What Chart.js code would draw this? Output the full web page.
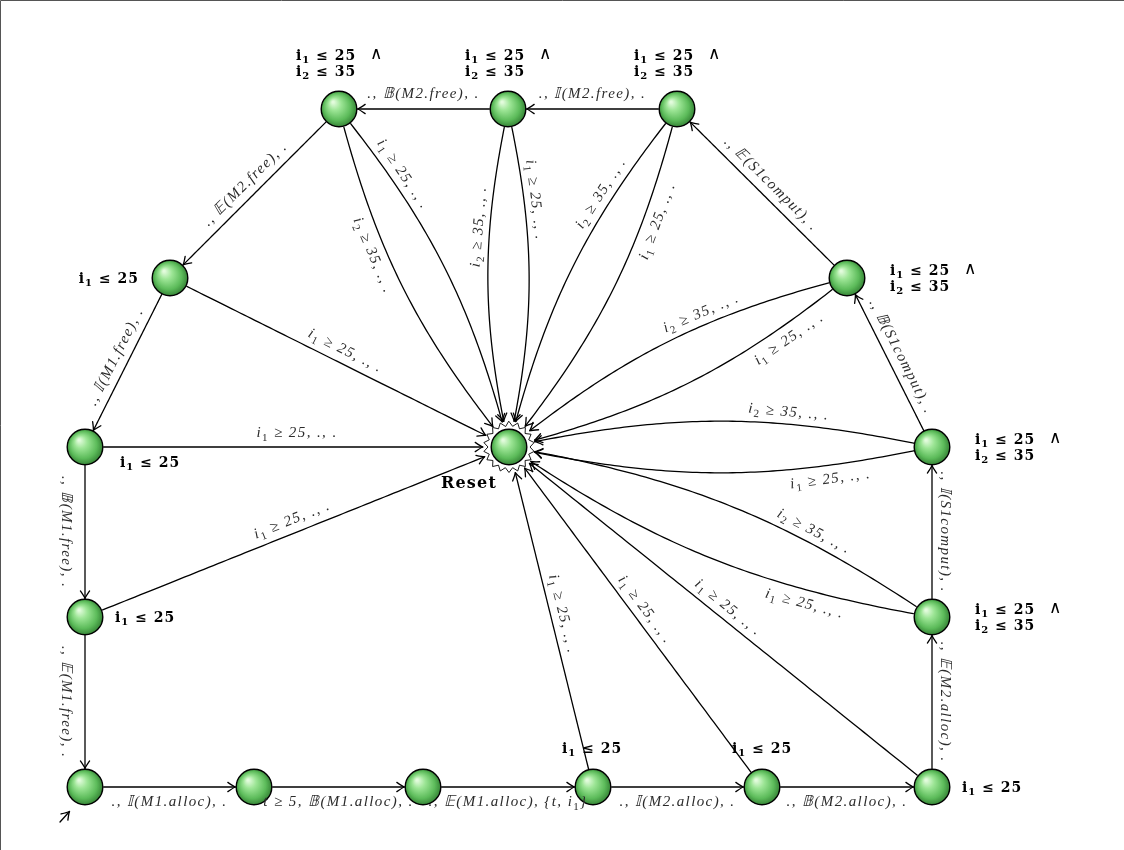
<!DOCTYPE html>
<html>
<head>
<meta charset="utf-8">
<script src="https://cdn.jsdelivr.net/npm/chart.js@4/dist/chart.umd.min.js"></script>
<style>
  html, body { margin: 0; padding: 0; background: #fff; }
  canvas { display: block; }
</style>
</head>
<body>
<canvas id="automaton" width="1124" height="850"></canvas>
<script>
// states of the automaton and where they sit
let stateNames = ["T1", "T2", "T3", "L1", "Reset", "R1", "L2", "R2", "L3", "R3", "B0", "B1", "B2", "B3", "B4", "B5"];
let stateX = [339, 508, 677, 170, 509, 847, 85, 932, 85, 932, 85, 254, 423, 593, 762, 932];
let stateY = [109, 109, 109, 278, 447, 278, 447, 447, 617, 617, 787, 787, 787, 787, 787, 787];

// invariants written next to the states
let guardStates = ["T1", "T2", "T3", "R1", "R2", "R3", "L1", "L2", "L3", "B3", "B4", "B5"];
let guardText = [
    ["i₁ ≤ 25", "i₂ ≤ 35"], ["i₁ ≤ 25", "i₂ ≤ 35"], ["i₁ ≤ 25", "i₂ ≤ 35"],
    ["i₁ ≤ 25", "i₂ ≤ 35"], ["i₁ ≤ 25", "i₂ ≤ 35"], ["i₁ ≤ 25", "i₂ ≤ 35"],
    ["i₁ ≤ 25"], ["i₁ ≤ 25"], ["i₁ ≤ 25"], ["i₁ ≤ 25"], ["i₁ ≤ 25"], ["i₁ ≤ 25"]
];

// transitions
let edgeFrom = ["T2", "T3", "T1", "L1", "L2", "L3", "B0", "B1", "B2", "B3", "B4", "B5", "R3", "R2", "R1",
                "T1", "T1", "T2", "T2", "T3", "T3", "R1", "R1", "R2", "R2", "R3", "R3",
                "L1", "L2", "L3", "B3", "B4", "B5"];
let edgeTo = ["T1", "T2", "L1", "L2", "L3", "B0", "B1", "B2", "B3", "B4", "B5", "R3", "R2", "R1", "T3",
              "Reset", "Reset", "Reset", "Reset", "Reset", "Reset", "Reset", "Reset", "Reset", "Reset", "Reset", "Reset",
              "Reset", "Reset", "Reset", "Reset", "Reset", "Reset"];
let edgeLabel = [
    "., 𝔹(M2.free), .", "., 𝕀(M2.free), .", "., 𝔼(M2.free), .", "., 𝕀(M1.free), .",
    "., 𝔹(M1.free), .", "., 𝔼(M1.free), .", "., 𝕀(M1.alloc), .", "t ≥ 5, 𝔹(M1.alloc), .",
    "., 𝔼(M1.alloc), {t, i₁}", "., 𝕀(M2.alloc), .", "., 𝔹(M2.alloc), .", "., 𝔼(M2.alloc), .",
    "., 𝕀(S1comput), .", "., 𝔹(S1comput), .", "., 𝔼(S1comput), .",
    "i₁ ≥ 25, ., .", "i₂ ≥ 35, ., .", "i₁ ≥ 25, ., .", "i₂ ≥ 35, ., .", "i₁ ≥ 25, ., .", "i₂ ≥ 35, ., .",
    "i₂ ≥ 35, ., .", "i₁ ≥ 25, ., .", "i₂ ≥ 35, ., .", "i₁ ≥ 25, ., .", "i₂ ≥ 35, ., .", "i₁ ≥ 25, ., .",
    "i₁ ≥ 25, ., .", "i₁ ≥ 25, ., .", "i₁ ≥ 25, ., .", "i₁ ≥ 25, ., .", "i₁ ≥ 25, ., .", "i₁ ≥ 25, ., ."
];

// drawing style of the transitions (bend in degrees, label position along the path and side offset)
let edgeBend = [0, 0, 0, 0, 0, 0, 0, 0, 0, 0, 0, 0, 0, 0, 0,
                12, -12, 12, -12, 12, -12, -12, 12, -12, 12, -12, 12,
                0, 0, 0, 0, 0, 0];
let labelPos = [0.5, 0.5, 0.5, 0.5, 0.5, 0.5, 0.5, 0.5, 0.5, 0.5, 0.5, 0.5, 0.5, 0.5, 0.5,
                0.22, 0.38, 0.26, 0.34, 0.28, 0.28, 0.38, 0.2, 0.33, 0.23, 0.3, 0.26,
                0.5, 0.5, 0.5, 0.5, 0.5, 0.5];
let labelOff = [-16, -16, -14, -14, -18, -18, -14, -14, -14, -14, -14, -14, -14, -14, -14,
                13, -13, 12, -12, 13, -13, -13, 13, -13, 13, -13, 13,
                14, 15, 14, -13, -13, -13];

const NODE_R = 18.5;
const RESET_R = 26;
const SUBS = "₀₁₂₃₄₅₆₇₈₉";

function idx(name) { return stateNames.indexOf(name); }

// the little shaded ball used for every state
function makeBall() {
    let c = document.createElement("canvas");
    c.width = 40; c.height = 40;
    let g = c.getContext("2d");
    let grad = g.createRadialGradient(14, 13, 1, 20, 20, 19);
    grad.addColorStop(0, "#e2fbdc");
    grad.addColorStop(0.3, "#9ce595");
    grad.addColorStop(0.7, "#5cbb5a");
    grad.addColorStop(1, "#2f7a30");
    g.beginPath();
    g.arc(20, 20, 17.8, 0, Math.PI * 2);
    g.fillStyle = grad;
    g.fill();
    g.lineWidth = 1.4;
    g.strokeStyle = "#000";
    g.stroke();
    return c;
}

// text with real lowered subscripts, drawn around (x, y)
function drawRich(ctx, text, x, y, mainFont, subFont, size, align) {
    let parts = [], buf = "";
    for (let ch of text) {
        let k = SUBS.indexOf(ch);
        if (k >= 0) {
            if (buf) parts.push([buf, false]);
            buf = "";
            parts.push([String(k), true]);
        } else buf += ch;
    }
    if (buf) parts.push([buf, false]);
    let w = 0;
    parts.forEach(p => {
        ctx.font = p[1] ? subFont : mainFont;
        p.push(ctx.measureText(p[0]).width);
        w += p[2];
    });
    let cx = align == "center" ? x - w / 2 : align == "right" ? x - w : x;
    ctx.textAlign = "left";
    ctx.textBaseline = "alphabetic";
    let base = y + size * 0.33;
    parts.forEach(p => {
        ctx.font = p[1] ? subFont : mainFont;
        ctx.fillText(p[0], cx, p[1] ? base + size * 0.25 : base);
        cx += p[2];
    });
}

function bezier(p0, p3, bendDeg) {
    let dx = p3.x - p0.x, dy = p3.y - p0.y;
    let len = Math.hypot(dx, dy), ang = Math.atan2(dy, dx);
    let th = bendDeg * Math.PI / 180, d = 0.3915 * len;
    let c1 = { x: p0.x + d * Math.cos(ang - th), y: p0.y + d * Math.sin(ang - th) };
    let c2 = { x: p3.x - d * Math.cos(ang + th), y: p3.y - d * Math.sin(ang + th) };
    return [p0, c1, c2, p3];
}

function bz(b, t) {
    let u = 1 - t;
    return {
        x: u * u * u * b[0].x + 3 * u * u * t * b[1].x + 3 * u * t * t * b[2].x + t * t * t * b[3].x,
        y: u * u * u * b[0].y + 3 * u * u * t * b[1].y + 3 * u * t * t * b[2].y + t * t * t * b[3].y
    };
}

function bzTan(b, t) {
    let u = 1 - t;
    return {
        x: 3 * u * u * (b[1].x - b[0].x) + 6 * u * t * (b[2].x - b[1].x) + 3 * t * t * (b[3].x - b[2].x),
        y: 3 * u * u * (b[1].y - b[0].y) + 6 * u * t * (b[2].y - b[1].y) + 3 * t * t * (b[3].y - b[2].y)
    };
}

function arrowHead(ctx, tip, dir) {
    let a = Math.atan2(dir.y, dir.x);
    ctx.save();
    ctx.translate(tip.x, tip.y);
    ctx.rotate(a);
    ctx.beginPath();
    ctx.moveTo(-7.5, -4.6);
    ctx.quadraticCurveTo(-2.2, -0.9, 0, 0);
    ctx.quadraticCurveTo(-2.2, 0.9, -7.5, 4.6);
    ctx.stroke();
    ctx.restore();
}

function px(chart, name) {
    let i = idx(name);
    return {
        x: chart.scales.x.getPixelForValue(stateX[i]),
        y: chart.scales.y.getPixelForValue(stateY[i])
    };
}

const automatonPlugin = {
    id: "automaton",
    beforeDatasetsDraw(chart) {
        let ctx = chart.ctx;
        ctx.save();
        // page frame
        ctx.strokeStyle = "#555";
        ctx.lineWidth = 1;
        ctx.beginPath();
        ctx.moveTo(0.5, 850); ctx.lineTo(0.5, 0.5); ctx.lineTo(1124, 0.5);
        ctx.stroke();

        ctx.strokeStyle = "#000";
        ctx.lineWidth = 1.3;
        ctx.lineJoin = "round";
        ctx.lineCap = "round";
        for (let e = 0; e < edgeFrom.length; e++) {
            let p0 = px(chart, edgeFrom[e]), p3 = px(chart, edgeTo[e]);
            let r0 = NODE_R, r3 = edgeTo[e] == "Reset" ? RESET_R : NODE_R;
            let b = bezier(p0, p3, edgeBend[e]);
            let t0 = 0, t1 = 1;
            for (let k = 0; k <= 1000; k++) {
                let q = bz(b, k / 1000);
                if (Math.hypot(q.x - p0.x, q.y - p0.y) >= r0) { t0 = k / 1000; break; }
            }
            for (let k = 1000; k >= 0; k--) {
                let q = bz(b, k / 1000);
                if (Math.hypot(q.x - p3.x, q.y - p3.y) >= r3) { t1 = k / 1000; break; }
            }
            ctx.beginPath();
            for (let k = 0; k <= 80; k++) {
                let q = bz(b, t0 + (t1 - t0) * k / 80);
                if (k == 0) ctx.moveTo(q.x, q.y); else ctx.lineTo(q.x, q.y);
            }
            ctx.stroke();
            arrowHead(ctx, bz(b, t1), bzTan(b, t1));
        }

        // initial arrow into B0
        let s = px(chart, "B0");
        let tail = { x: s.x - 25, y: s.y + 35 }, tip = { x: s.x - 15.5, y: s.y + 24.5 };
        ctx.beginPath();
        ctx.moveTo(tail.x, tail.y); ctx.lineTo(tip.x, tip.y);
        ctx.stroke();
        arrowHead(ctx, tip, { x: tip.x - tail.x, y: tip.y - tail.y });

        // star outline of the reset state
        let r = px(chart, "Reset");
        let spikes = 18;
        ctx.beginPath();
        for (let k = 0; k < spikes * 2; k++) {
            let rad = k % 2 == 0 ? RESET_R - 0.5 : 21;
            let a = -Math.PI / 2 + k * Math.PI / spikes;
            let x = r.x + rad * Math.cos(a), y = r.y + rad * Math.sin(a);
            if (k == 0) ctx.moveTo(x, y); else ctx.lineTo(x, y);
        }
        ctx.closePath();
        ctx.fillStyle = "#fff";
        ctx.fill();
        ctx.lineWidth = 0.9;
        ctx.stroke();
        ctx.restore();
    },
    afterDatasetsDraw(chart) {
        let ctx = chart.ctx;
        ctx.save();
        // transition labels
        let italic = 'italic 15px "Liberation Serif", "DejaVu Serif", serif';
        let italicSub = '11px "Liberation Serif", "DejaVu Serif", serif';
        ctx.letterSpacing = "1.4px";
        ctx.fillStyle = "#2b2b2b";
        for (let e = 0; e < edgeFrom.length; e++) {
            let p0 = px(chart, edgeFrom[e]), p3 = px(chart, edgeTo[e]);
            let b = bezier(p0, p3, edgeBend[e]);
            let q = bz(b, labelPos[e]), d = bzTan(b, labelPos[e]);
            let len = Math.hypot(d.x, d.y);
            let n = { x: d.y / len, y: -d.x / len };
            let a = Math.atan2(d.y, d.x);
            if (a > Math.PI / 2 + 0.001) a -= Math.PI;
            if (a <= -Math.PI / 2 + 0.001) a += Math.PI;
            ctx.save();
            ctx.translate(q.x + n.x * labelOff[e], q.y + n.y * labelOff[e]);
            ctx.rotate(a);
            drawRich(ctx, edgeLabel[e], 0, 0, italic, italicSub, 15, "center");
            ctx.restore();
        }

        // invariants next to states
        let bold = 'bold 14px "DejaVu Serif", "Liberation Serif", serif';
        let boldSub = 'bold 10px "DejaVu Serif", "Liberation Serif", serif';
        ctx.fillStyle = "#000";
        ctx.letterSpacing = "1px";
        let place = {
            T1: [-43, -54, "left"], T2: [-43, -54, "left"], T3: [-43, -54, "left"],
            R1: [43, -8, "left"], R2: [43, -8, "left"], R3: [43, -8, "left"],
            L1: [-31, 0, "right"], L2: [35, 15, "left"], L3: [30, 0, "left"],
            B3: [-31, -39, "left"], B4: [-30, -39, "left"], B5: [30, 0, "left"]
        };
        guardStates.forEach((name, i) => {
            let p = px(chart, name), o = place[name];
            guardText[i].forEach((line, j) => {
                drawRich(ctx, line, p.x + o[0], p.y + o[1] + j * 16, bold, boldSub, 14, o[2]);
            });
            if (guardText[i].length > 1) {
                ctx.font = '17px "DejaVu Serif", serif';
                ctx.textAlign = "left";
                ctx.textBaseline = "middle";
                ctx.fillText("∧", p.x + o[0] + 74, p.y + o[1]);
            }
        });
        let rs = px(chart, "Reset");
        ctx.font = 'bold 16px "DejaVu Serif", "Liberation Serif", serif';
        ctx.letterSpacing = "1.2px";
        ctx.textAlign = "center";
        ctx.textBaseline = "middle";
        ctx.fillText("Reset", rs.x - 40, rs.y + 37);
        ctx.restore();
    }
};

let ball = makeBall();
let ctx = document.getElementById("automaton").getContext("2d");
window.automatonChart = new Chart(ctx, {
    type: "scatter",
    data: {
        datasets: [{
            data: stateX.map((x, i) => ({ x: x, y: stateY[i] })),
            pointStyle: ball,
            pointRadius: 19,
            pointHoverRadius: 19
        }]
    },
    options: {
        responsive: false,
        animation: false,
        events: [],
        layout: { padding: 0, autoPadding: false },
        plugins: { legend: { display: false }, tooltip: { enabled: false } },
        scales: {
            x: { type: "linear", min: 0, max: 1124, display: false },
            y: { type: "linear", min: 0, max: 850, reverse: true, display: false }
        }
    },
    plugins: [automatonPlugin]
});
</script>
</body>
</html>
